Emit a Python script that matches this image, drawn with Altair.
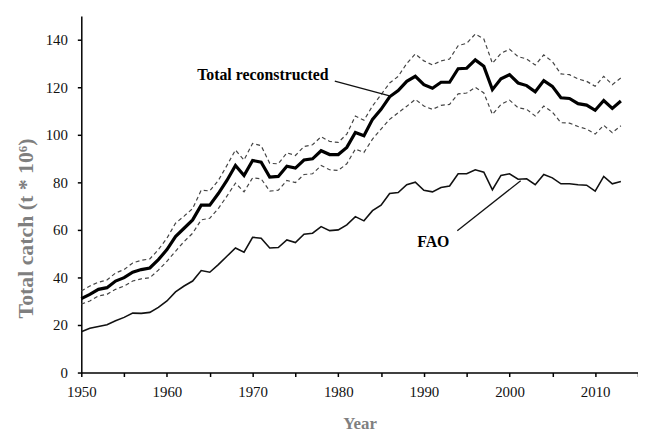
import altair as alt
import pandas as pd

years = list(range(1950, 2014))

reconstructed = [31.1, 32.9, 35.0, 35.7, 38.5, 39.9, 42.2, 43.3, 44.0, 47.5,
                 51.7, 57.2, 60.7, 64.2, 70.4, 70.4, 75.3, 80.8, 87.1, 82.9,
                 89.2, 88.5, 82.2, 82.5, 86.8, 86.0, 89.4, 89.9, 93.3, 91.7,
                 91.7, 94.7, 101.0, 99.6, 106.5, 110.7, 116.0, 118.6, 122.5, 124.6,
                 121.1, 119.6, 122.1, 122.1, 127.8, 128.0, 131.5, 128.8, 119.0, 123.6,
                 125.3, 121.8, 120.7, 118.1, 122.8, 120.4, 115.6, 115.3, 113.1, 112.5,
                 110.3, 114.4, 111.1, 114.2]

fao = [17.2, 18.6, 19.4, 20.1, 21.8, 23.2, 25.0, 24.9, 25.3, 27.4,
       30.1, 33.9, 36.4, 38.5, 42.9, 42.2, 45.4, 48.9, 52.4, 50.6,
       56.9, 56.5, 52.4, 52.6, 55.8, 54.7, 58.2, 58.6, 61.4, 59.7,
       60.0, 62.1, 65.6, 63.8, 68.1, 70.4, 75.3, 75.7, 79.0, 80.1,
       76.7, 76.0, 77.8, 78.5, 83.6, 83.6, 85.3, 84.3, 76.9, 82.9,
       83.6, 81.3, 81.5, 79.0, 83.3, 81.9, 79.4, 79.4, 79.0, 78.8,
       76.3, 82.5, 79.4, 80.4]

upper = [34.3, 36.4, 38.0, 38.9, 41.9, 43.3, 46.1, 47.2, 47.8, 51.7,
         56.5, 62.8, 65.8, 69.0, 76.7, 76.4, 80.8, 87.1, 93.6, 89.4,
         96.4, 95.4, 88.0, 87.8, 92.4, 91.3, 95.1, 95.8, 99.2, 97.2,
         96.8, 100.3, 107.9, 106.1, 112.1, 116.9, 121.8, 124.6, 130.0, 134.0,
         131.1, 129.4, 131.1, 131.9, 137.5, 138.5, 142.4, 140.3, 130.1, 134.3,
         136.0, 132.9, 131.9, 129.4, 133.6, 130.8, 125.6, 125.3, 123.5, 122.5,
         120.4, 124.6, 121.1, 123.9]

lower = [28.8, 30.1, 32.2, 32.9, 35.0, 36.4, 38.5, 39.4, 39.9, 43.1,
         46.8, 51.0, 55.1, 58.6, 64.2, 64.9, 69.0, 74.2, 79.7, 76.0,
         81.9, 81.5, 76.3, 76.7, 80.8, 79.9, 83.3, 83.6, 87.1, 85.3,
         85.0, 87.8, 94.0, 92.6, 98.2, 102.4, 106.5, 109.3, 112.0, 114.9,
         112.1, 110.7, 112.4, 112.8, 117.2, 117.6, 120.0, 117.6, 108.6, 112.8,
         114.6, 111.4, 110.7, 107.9, 112.1, 109.6, 105.1, 104.9, 103.5, 102.4,
         100.3, 104.0, 100.9, 103.8]

x_ticks = list(range(1950, 2016, 5))
y_ticks = list(range(0, 151, 10))

# annotation labels (in data coordinates)
labels = ["Total reconstructed", "FAO"]
label_year = [1971.2, 1991.1]
label_value = [125.2, 54.7]
leader_year = [1979.6, 1993.9]
leader_value = [122.6, 59.6]
leader_year2 = [1986.0, 2001.3]
leader_value2 = [116.4, 80.7]

df = pd.DataFrame({"Year": years, "Reconstructed": reconstructed, "FAO": fao,
                   "Upper": upper, "Lower": lower})
long = df.melt("Year", var_name="Series", value_name="Catch")

ann = pd.DataFrame({"label": labels, "x": label_year, "y": label_value})
lead = pd.DataFrame({"x": leader_year, "y": leader_value,
                     "x2": leader_year2, "y2": leader_value2})

FONT = "Liberation Serif"

xscale = alt.Scale(domain=[1950, 2015], nice=False, zero=False)
yscale = alt.Scale(domain=[0, 150], nice=False)

x_enc = alt.X("Year:Q", scale=xscale,
              axis=alt.Axis(values=x_ticks, format="d",
                            labelExpr="datum.value % 10 == 0 ? datum.label : ''",
                            labelFlush=False,
                            title="Year", titleX=281, titleY=51,
                            titleFontSize=17,
                            titleBaseline="middle", labelPadding=8))
y_enc = alt.Y("Catch:Q", scale=yscale,
              axis=alt.Axis(values=y_ticks,
                            labelExpr="datum.value % 20 == 0 ? datum.label : ''",
                            title="Total catch (t * 10⁶)", titleX=-56, titleY=214,
                            titleFontSize=22,
                            titleBaseline="middle", titleAngle=-90, labelPadding=10))

base = alt.Chart(long)

dashed = base.transform_filter(
    alt.FieldOneOfPredicate(field="Series", oneOf=["Upper", "Lower"])
).mark_line(color="#444444", strokeWidth=1.2, strokeDash=[4, 3]).encode(
    x=x_enc, y=y_enc, detail="Series:N")

fao_line = base.transform_filter(alt.datum.Series == "FAO").mark_line(
    color="#111111", strokeWidth=1.6).encode(x=x_enc, y=y_enc)

rec_line = base.transform_filter(alt.datum.Series == "Reconstructed").mark_line(
    color="#000000", strokeWidth=3.2).encode(x=x_enc, y=y_enc)

leaders = alt.Chart(lead).mark_rule(color="#111111", strokeWidth=1.3).encode(
    x=alt.X("x:Q", scale=xscale), y=alt.Y("y:Q", scale=yscale),
    x2="x2:Q", y2="y2:Q")

texts = alt.Chart(ann).mark_text(font=FONT, fontSize=16, fontWeight="bold",
                                 color="#000000", align="center",
                                 baseline="middle").encode(
    x=alt.X("x:Q", scale=xscale), y=alt.Y("y:Q", scale=yscale), text="label:N")

chart = alt.layer(dashed, fao_line, rec_line, leaders, texts).properties(
    width=562, height=360,
    autosize=alt.AutoSizeParams(type="none"),
    padding={"left": 74, "top": 6, "right": 0, "bottom": 58},
    background="white",
).configure_view(stroke=None).configure_axis(
    grid=False, domainColor="#000000", domainWidth=1.5,
    tickColor="#000000", tickWidth=1.5, tickSize=4,
    labelFont=FONT, labelFontSize=15, labelColor="#111111",
    titleFont=FONT, titleFontWeight="bold",
    titleColor="#7f7f7f",
)

chart.save("out.html", embed_options={"renderer": "svg", "actions": False})
